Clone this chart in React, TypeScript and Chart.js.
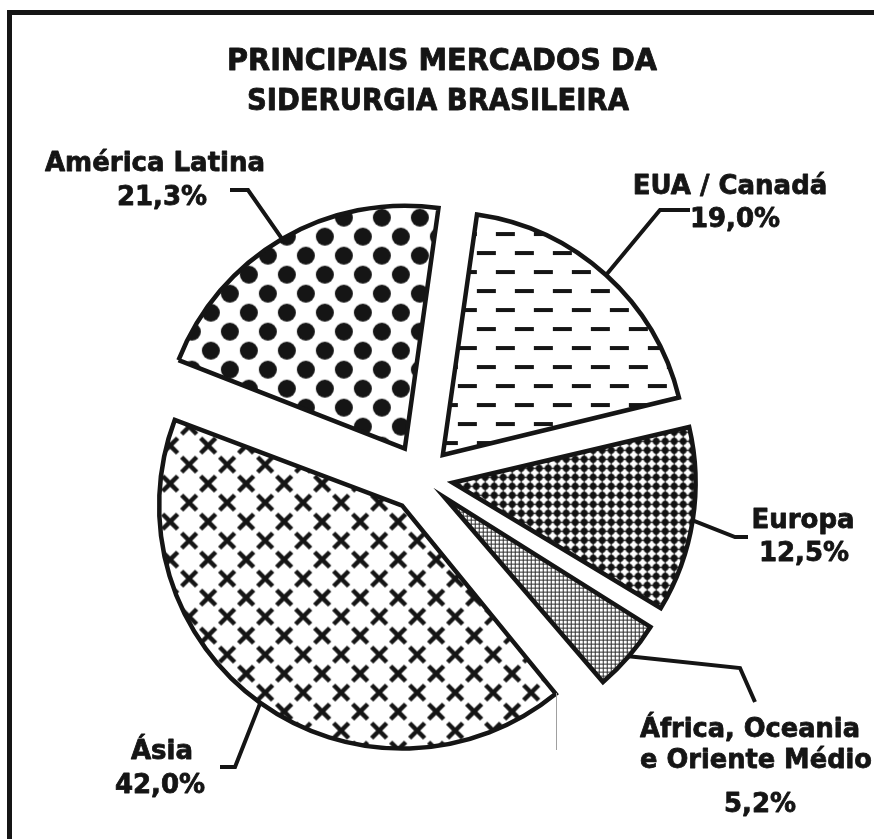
import React, { useEffect, useRef } from "react";
import { Chart, registerables } from "chart.js";

Chart.register(...registerables);

// ---------- data ----------
const TITLE_LINES = ["PRINCIPAIS MERCADOS DA", "SIDERURGIA BRASILEIRA"];
const CATEGORIES = ["EUA / Canadá", "Europa", "África, Oceania e Oriente Médio", "Ásia", "América Latina"];
const SHARES = [19.0, 12.5, 5.2, 42.0, 21.3];
const LABEL_LINES = [
  ["EUA / Canadá", "19,0%"],
  ["Europa", "12,5%"],
  ["África, Oceania", "e Oriente Médio", "5,2%"],
  ["Ásia", "42,0%"],
  ["América Latina", "21,3%"],
];
const EXPLODE = [124, 124, 120, 136, 136];

// ---------- layout ----------
const W = 874;
const H = 839;
const RADIUS = 243;
const LABEL_X = [
  [730, 735],
  [803, 804],
  [750, 756, 760],
  [162, 160],
  [155, 162],
];
const LABEL_BASE = [
  [194, 227],
  [528, 561],
  [737, 768, 812],
  [759, 793],
  [171, 205],
];
const LABEL_MAXW = [
  [204, 94],
  [103, 94],
  [220, 232, 80],
  [66, 100],
  [220, 100],
];
const LEADER_ELBOW = [
  [660, 210],
  [735, 537],
  [740, 668],
  [235, 767],
  [248, 190],
];
const LEADER_END = [
  [690, 210],
  [748, 537],
  [755, 702],
  [220, 767],
  [230, 190],
];

const INK = "#151515";

function tile(size: number, draw: (c: CanvasRenderingContext2D) => void) {
  const t = document.createElement("canvas");
  t.width = size;
  t.height = size;
  const c = t.getContext("2d")!;
  c.fillStyle = "#ffffff";
  c.fillRect(0, 0, size, size);
  draw(c);
  return t;
}

function makePatterns(ctx: CanvasRenderingContext2D) {
  const S = 38;
  const pts = [
    [0, 0],
    [S, 0],
    [0, S],
    [S, S],
    [S / 2, S / 2],
  ];
  // dashes (EUA / Canadá)
  const dashes = tile(S, (c) => {
    c.fillStyle = INK;
    for (const dx of [-S, 0, S]) {
      c.fillRect(dx + 0, 8, 19, 4);
      c.fillRect(dx + 19, 27, 19, 4);
    }
  });
  // small dotted grid (Europa)
  const grid = tile(9, (c) => {
    c.strokeStyle = "#2a2a2a";
    c.lineWidth = 1.5;
    c.beginPath();
    c.moveTo(0, 4.5);
    c.lineTo(9, 4.5);
    c.moveTo(4.5, 0);
    c.lineTo(4.5, 9);
    c.stroke();
    c.fillStyle = "#111";
    c.beginPath();
    c.arc(4.5, 4.5, 3.4, 0, Math.PI * 2);
    c.fill();
  });
  // fine crosshatch (África)
  const hatch = tile(4, (c) => {
    c.fillStyle = "#2e2e2e";
    c.fillRect(0, 0, 4, 1);
    c.fillRect(0, 0, 1, 4);
  });
  // crosses (Ásia)
  const crosses = tile(S, (c) => {
    c.strokeStyle = INK;
    c.lineWidth = 4.5;
    const a = 7.5;
    c.beginPath();
    for (const [x, y] of pts) {
      c.moveTo(x - a, y - a);
      c.lineTo(x + a, y + a);
      c.moveTo(x + a, y - a);
      c.lineTo(x - a, y + a);
    }
    c.stroke();
  });
  // big dots (América Latina)
  const dots = tile(S, (c) => {
    c.fillStyle = INK;
    for (const [x, y] of pts) {
      c.beginPath();
      c.arc(x, y, 9, 0, Math.PI * 2);
      c.fill();
    }
  });
  return [dashes, grid, hatch, crosses, dots].map((t) => ctx.createPattern(t, "repeat")!);
}

const whiteBg = {
  id: "whiteBg",
  beforeDraw(chart: any) {
    const c = chart.ctx;
    c.save();
    c.fillStyle = "#ffffff";
    c.fillRect(0, 0, chart.width, chart.height);
    c.restore();
  },
};

// keep every exploded slice at the same visible radius
const radiusFix = {
  id: "radiusFix",
  beforeDatasetsDraw(chart: any) {
    const meta = chart.getDatasetMeta(0);
    meta.data.forEach((arc: any) => {
      const off = (arc.options.offset || 0) / 4;
      const circ = arc.endAngle - arc.startAngle;
      const fix = 1 - Math.sin(Math.min(Math.PI, circ));
      arc.outerRadius = RADIUS - off * fix;
    });
  },
};

function boldText(c: CanvasRenderingContext2D, txt: string, x: number, y: number, mw: number) {
  c.fillText(txt, x, y, mw);
  c.strokeText(txt, x, y, mw);
}

const decorations = {
  id: "decorations",
  afterDraw(chart: any) {
    const c: CanvasRenderingContext2D = chart.ctx;
    c.save();
    // frame (left + top)
    c.strokeStyle = INK;
    c.lineWidth = 5;
    c.lineJoin = "miter";
    c.beginPath();
    c.moveTo(9.5, H + 5);
    c.lineTo(9.5, 12.5);
    c.lineTo(W + 5, 12.5);
    c.stroke();

    // title
    c.fillStyle = INK;
    c.strokeStyle = INK;
    c.textAlign = "center";
    c.textBaseline = "alphabetic";
    c.lineWidth = 0.9;
    c.lineJoin = "round";
    c.font = "bold 31px 'DejaVu Sans', Verdana, sans-serif";
    boldText(c, TITLE_LINES[0], 442, 70, 430);
    boldText(c, TITLE_LINES[1], 438, 110, 382);

    // leader lines
    const meta = chart.getDatasetMeta(0);
    c.lineWidth = 4;
    c.lineJoin = "miter";
    c.lineCap = "butt";
    meta.data.forEach((arc: any, i: number) => {
      const mid = (arc.startAngle + arc.endAngle) / 2;
      const t = (arc.options.offset || 0) / 4;
      const r = RADIUS + t;
      const sx = arc.x + Math.cos(mid) * r;
      const sy = arc.y + Math.sin(mid) * r;
      c.beginPath();
      c.moveTo(sx, sy);
      c.lineTo(LEADER_ELBOW[i][0], LEADER_ELBOW[i][1]);
      c.lineTo(LEADER_END[i][0], LEADER_END[i][1]);
      c.stroke();
    });

    // labels
    c.lineWidth = 0.8;
    c.lineJoin = "round";
    c.font = "bold 26px 'DejaVu Sans', Verdana, sans-serif";
    LABEL_LINES.forEach((lines, i) => {
      lines.forEach((txt, j) => {
        boldText(c, txt, LABEL_X[i][j], LABEL_BASE[i][j], LABEL_MAXW[i][j]);
      });
    });

    // faint scan artefact line
    c.strokeStyle = "#a0a0a0";
    c.lineWidth = 1;
    c.beginPath();
    c.moveTo(556.5, 693);
    c.lineTo(556.5, 750);
    c.stroke();
    c.restore();
  },
};

export default function App() {
  const ref = useRef<HTMLCanvasElement | null>(null);
  useEffect(() => {
    document.body.style.margin = "0";
    const canvas = ref.current!;
    const ctx = canvas.getContext("2d")!;
    const patterns = makePatterns(ctx);
    const chart = new Chart(canvas, {
      type: "pie",
      data: {
        labels: CATEGORIES,
        datasets: [
          {
            data: SHARES,
            backgroundColor: patterns as any,
            borderColor: INK,
            borderWidth: 4.5,
            borderJoinStyle: "miter",
            offset: EXPLODE,
            hoverOffset: 0,
          } as any,
        ],
      },
      options: {
        animation: false,
        responsive: false,
        devicePixelRatio: 1,
        rotation: 8,
        radius: RADIUS,
        events: [],
        layout: { padding: { left: 0, right: 30, top: 117, bottom: 0 } },
        plugins: {
          legend: { display: false },
          tooltip: { enabled: false },
          title: { display: false },
        },
      } as any,
      plugins: [whiteBg, radiusFix, decorations],
    });
    return () => chart.destroy();
  }, []);
  return (
    <div style={{ position: "absolute", left: 0, top: 0, width: W, height: H, background: "#fff" }}>
      <canvas ref={ref} width={W} height={H} style={{ display: "block", width: W, height: H }} />
    </div>
  );
}
